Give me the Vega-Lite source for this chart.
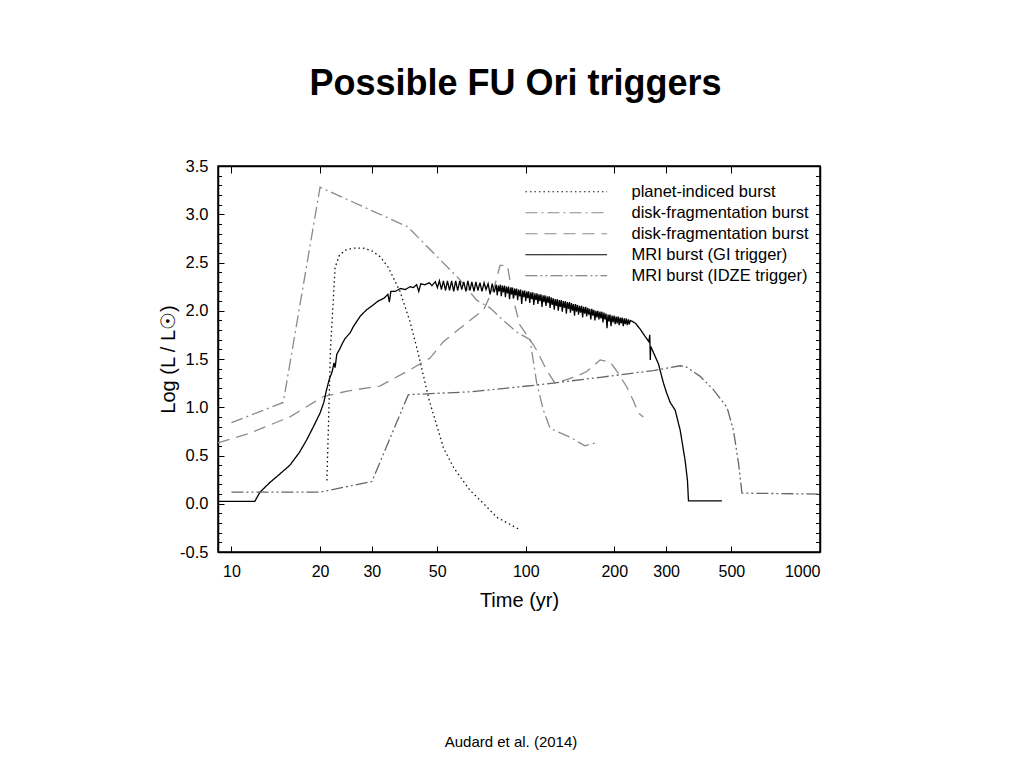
{
  "$schema": "https://vega.github.io/schema/vega-lite/v6.json",
  "background": "white",
  "padding": {"left": 157, "top": 66, "right": 10, "bottom": 10},
  "title": {"text": "Possible FU Ori triggers", "font": "Liberation Sans", "fontSize": 36, "fontWeight": "bold", "color": "black", "anchor": "middle", "offset": 54, "dx": 25},
  "vconcat": [
    {
      "title": {"text": "Audard et al. (2014)", "orient": "bottom", "font": "Liberation Sans", "fontSize": 15, "fontWeight": "normal", "color": "black", "offset": 125, "dx": -8},
      "width": 602,
      "height": 386,
      "data": {"values": [
        {"s":"planet-indiced burst","t":21.1,"L":0.24},{"s":"planet-indiced burst","t":21.4,"L":0.9},{"s":"planet-indiced burst","t":21.7,"L":1.6},{"s":"planet-indiced burst","t":22.2,"L":2.13},{"s":"planet-indiced burst","t":22.5,"L":2.45},{"s":"planet-indiced burst","t":23.3,"L":2.58},{"s":"planet-indiced burst","t":24.5,"L":2.63},{"s":"planet-indiced burst","t":26,"L":2.65},{"s":"planet-indiced burst","t":28,"L":2.65},{"s":"planet-indiced burst","t":30,"L":2.62},{"s":"planet-indiced burst","t":32,"L":2.56},{"s":"planet-indiced burst","t":34.1,"L":2.45},{"s":"planet-indiced burst","t":37.4,"L":2.2},{"s":"planet-indiced burst","t":40.4,"L":1.89},{"s":"planet-indiced burst","t":43.1,"L":1.56},{"s":"planet-indiced burst","t":47,"L":1.07},{"s":"planet-indiced burst","t":50,"L":0.8},{"s":"planet-indiced burst","t":52.5,"L":0.58},{"s":"planet-indiced burst","t":57,"L":0.37},{"s":"planet-indiced burst","t":64.6,"L":0.14},{"s":"planet-indiced burst","t":72,"L":0.0},{"s":"planet-indiced burst","t":79.7,"L":-0.14},{"s":"planet-indiced burst","t":88,"L":-0.21},{"s":"planet-indiced burst","t":95.7,"L":-0.27},

        {"s":"disk-fragmentation burst","t":10,"L":0.84},{"s":"disk-fragmentation burst","t":15,"L":1.05},{"s":"disk-fragmentation burst","t":20,"L":3.28},{"s":"disk-fragmentation burst","t":39.7,"L":2.87},{"s":"disk-fragmentation burst","t":59.8,"L":2.32},{"s":"disk-fragmentation burst","t":68.1,"L":2.11},{"s":"disk-fragmentation burst","t":75.6,"L":2.03},{"s":"disk-fragmentation burst","t":83.9,"L":1.9},{"s":"disk-fragmentation burst","t":93.2,"L":1.78},{"s":"disk-fragmentation burst","t":103.4,"L":1.7},{"s":"disk-fragmentation burst","t":109,"L":1.25},{"s":"disk-fragmentation burst","t":114.8,"L":0.97},{"s":"disk-fragmentation burst","t":121,"L":0.78},{"s":"disk-fragmentation burst","t":141.5,"L":0.69},{"s":"disk-fragmentation burst","t":159,"L":0.6},{"s":"disk-fragmentation burst","t":176.6,"L":0.64},

        {"s":"disk-fragmentation burst 2","t":9,"L":0.63},{"s":"disk-fragmentation burst 2","t":11.5,"L":0.73},{"s":"disk-fragmentation burst 2","t":15.8,"L":0.9},{"s":"disk-fragmentation burst 2","t":20.5,"L":1.11},{"s":"disk-fragmentation burst 2","t":25,"L":1.17},{"s":"disk-fragmentation burst 2","t":31.9,"L":1.22},{"s":"disk-fragmentation burst 2","t":40,"L":1.38},{"s":"disk-fragmentation burst 2","t":47.3,"L":1.51},{"s":"disk-fragmentation burst 2","t":52.5,"L":1.68},{"s":"disk-fragmentation burst 2","t":64.6,"L":1.9},{"s":"disk-fragmentation burst 2","t":72,"L":2.01},{"s":"disk-fragmentation burst 2","t":78.6,"L":2.27},{"s":"disk-fragmentation burst 2","t":81.8,"L":2.47},{"s":"disk-fragmentation burst 2","t":86.6,"L":2.47},{"s":"disk-fragmentation burst 2","t":90.8,"L":2.11},{"s":"disk-fragmentation burst 2","t":95.6,"L":1.85},{"s":"disk-fragmentation burst 2","t":102,"L":1.73},{"s":"disk-fragmentation burst 2","t":109,"L":1.59},{"s":"disk-fragmentation burst 2","t":117.9,"L":1.38},{"s":"disk-fragmentation burst 2","t":125.8,"L":1.25},{"s":"disk-fragmentation burst 2","t":149,"L":1.32},{"s":"disk-fragmentation burst 2","t":161,"L":1.37},{"s":"disk-fragmentation burst 2","t":179,"L":1.49},{"s":"disk-fragmentation burst 2","t":193.5,"L":1.47},{"s":"disk-fragmentation burst 2","t":206.5,"L":1.35},{"s":"disk-fragmentation burst 2","t":220.5,"L":1.21},{"s":"disk-fragmentation burst 2","t":232,"L":1.07},{"s":"disk-fragmentation burst 2","t":241.6,"L":0.94},{"s":"disk-fragmentation burst 2","t":251,"L":0.9},

        {"s":"MRI burst (GI trigger)","t":9,"L":0.025},{"s":"MRI burst (GI trigger)","t":12.0,"L":0.025},{"s":"MRI burst (GI trigger)","t":12.5,"L":0.12},{"s":"MRI burst (GI trigger)","t":13.5,"L":0.22},{"s":"MRI burst (GI trigger)","t":14.5,"L":0.30},{"s":"MRI burst (GI trigger)","t":15.8,"L":0.40},{"s":"MRI burst (GI trigger)","t":17.0,"L":0.53},{"s":"MRI burst (GI trigger)","t":18.0,"L":0.66},{"s":"MRI burst (GI trigger)","t":19.0,"L":0.80},{"s":"MRI burst (GI trigger)","t":20.0,"L":0.94},{"s":"MRI burst (GI trigger)","t":20.6,"L":1.05},{"s":"MRI burst (GI trigger)","t":21.0,"L":1.17},{"s":"MRI burst (GI trigger)","t":21.5,"L":1.29},{"s":"MRI burst (GI trigger)","t":22.0,"L":1.37},{"s":"MRI burst (GI trigger)","t":22.3,"L":1.46},{"s":"MRI burst (GI trigger)","t":22.5,"L":1.41},{"s":"MRI burst (GI trigger)","t":22.8,"L":1.55},{"s":"MRI burst (GI trigger)","t":23.3,"L":1.60},{"s":"MRI burst (GI trigger)","t":23.8,"L":1.66},{"s":"MRI burst (GI trigger)","t":24.3,"L":1.71},{"s":"MRI burst (GI trigger)","t":25.3,"L":1.77},{"s":"MRI burst (GI trigger)","t":26.0,"L":1.84},{"s":"MRI burst (GI trigger)","t":26.8,"L":1.90},{"s":"MRI burst (GI trigger)","t":27.5,"L":1.95},{"s":"MRI burst (GI trigger)","t":28.8,"L":2.01},{"s":"MRI burst (GI trigger)","t":30.0,"L":2.05},{"s":"MRI burst (GI trigger)","t":31.5,"L":2.10},{"s":"MRI burst (GI trigger)","t":33.0,"L":2.13},{"s":"MRI burst (GI trigger)","t":34.0,"L":2.17},{"s":"MRI burst (GI trigger)","t":34.4,"L":2.09},{"s":"MRI burst (GI trigger)","t":34.8,"L":2.20},{"s":"MRI burst (GI trigger)","t":36.0,"L":2.20},{"s":"MRI burst (GI trigger)","t":37.5,"L":2.23},{"s":"MRI burst (GI trigger)","t":39.0,"L":2.22},{"s":"MRI burst (GI trigger)","t":40.5,"L":2.25},{"s":"MRI burst (GI trigger)","t":41.5,"L":2.24},{"s":"MRI burst (GI trigger)","t":42.6,"L":2.27},{"s":"MRI burst (GI trigger)","t":43.3,"L":2.20},{"s":"MRI burst (GI trigger)","t":44.0,"L":2.28},{"s":"MRI burst (GI trigger)","t":45.5,"L":2.27},{"s":"MRI burst (GI trigger)","t":47.0,"L":2.29},{"s":"MRI burst (GI trigger)","t":48.0,"L":2.26},{"s":"MRI burst (GI trigger)","t":49.3,"L":2.30},{"s":"MRI burst (GI trigger)","t":50.1,"L":2.24},{"s":"MRI burst (GI trigger)","t":50.9,"L":2.31},{"s":"MRI burst (GI trigger)","t":51.7,"L":2.22},{"s":"MRI burst (GI trigger)","t":52.5,"L":2.31},{"s":"MRI burst (GI trigger)","t":53.4,"L":2.21},{"s":"MRI burst (GI trigger)","t":54.2,"L":2.31},{"s":"MRI burst (GI trigger)","t":55.1,"L":2.21},{"s":"MRI burst (GI trigger)","t":56.0,"L":2.31},{"s":"MRI burst (GI trigger)","t":56.9,"L":2.20},{"s":"MRI burst (GI trigger)","t":57.8,"L":2.31},{"s":"MRI burst (GI trigger)","t":58.7,"L":2.21},{"s":"MRI burst (GI trigger)","t":59.7,"L":2.31},{"s":"MRI burst (GI trigger)","t":60.6,"L":2.22},{"s":"MRI burst (GI trigger)","t":61.6,"L":2.30},{"s":"MRI burst (GI trigger)","t":62.6,"L":2.20},{"s":"MRI burst (GI trigger)","t":63.6,"L":2.31},{"s":"MRI burst (GI trigger)","t":64.6,"L":2.21},{"s":"MRI burst (GI trigger)","t":65.6,"L":2.30},{"s":"MRI burst (GI trigger)","t":66.7,"L":2.20},{"s":"MRI burst (GI trigger)","t":67.7,"L":2.30},{"s":"MRI burst (GI trigger)","t":68.8,"L":2.21},{"s":"MRI burst (GI trigger)","t":69.9,"L":2.29},{"s":"MRI burst (GI trigger)","t":71.0,"L":2.20},{"s":"MRI burst (GI trigger)","t":72.2,"L":2.29},{"s":"MRI burst (GI trigger)","t":73.3,"L":2.22},{"s":"MRI burst (GI trigger)","t":74.5,"L":2.28},{"s":"MRI burst (GI trigger)","t":75.7,"L":2.17},{"s":"MRI burst (GI trigger)","t":76.9,"L":2.28},{"s":"MRI burst (GI trigger)","t":78.1,"L":2.19},{"s":"MRI burst (GI trigger)","t":79.4,"L":2.27},{"s":"MRI burst (GI trigger)","t":80.0,"L":2.16},{"s":"MRI burst (GI trigger)","t":80.7,"L":2.26},{"s":"MRI burst (GI trigger)","t":81.3,"L":2.20},{"s":"MRI burst (GI trigger)","t":82.0,"L":2.27},{"s":"MRI burst (GI trigger)","t":82.6,"L":2.15},{"s":"MRI burst (GI trigger)","t":83.3,"L":2.26},{"s":"MRI burst (GI trigger)","t":84.0,"L":2.19},{"s":"MRI burst (GI trigger)","t":84.7,"L":2.26},{"s":"MRI burst (GI trigger)","t":85.3,"L":2.14},{"s":"MRI burst (GI trigger)","t":86.0,"L":2.25},{"s":"MRI burst (GI trigger)","t":86.7,"L":2.18},{"s":"MRI burst (GI trigger)","t":87.4,"L":2.25},{"s":"MRI burst (GI trigger)","t":88.1,"L":2.12},{"s":"MRI burst (GI trigger)","t":88.8,"L":2.24},{"s":"MRI burst (GI trigger)","t":89.5,"L":2.17},{"s":"MRI burst (GI trigger)","t":90.2,"L":2.24},{"s":"MRI burst (GI trigger)","t":91.0,"L":2.13},{"s":"MRI burst (GI trigger)","t":91.7,"L":2.23},{"s":"MRI burst (GI trigger)","t":92.4,"L":2.16},{"s":"MRI burst (GI trigger)","t":93.1,"L":2.23},{"s":"MRI burst (GI trigger)","t":93.9,"L":2.11},{"s":"MRI burst (GI trigger)","t":94.6,"L":2.22},{"s":"MRI burst (GI trigger)","t":95.4,"L":2.15},{"s":"MRI burst (GI trigger)","t":96.1,"L":2.22},{"s":"MRI burst (GI trigger)","t":96.9,"L":2.07},{"s":"MRI burst (GI trigger)","t":97.7,"L":2.21},{"s":"MRI burst (GI trigger)","t":98.4,"L":2.14},{"s":"MRI burst (GI trigger)","t":99.2,"L":2.21},{"s":"MRI burst (GI trigger)","t":100.0,"L":2.10},{"s":"MRI burst (GI trigger)","t":100.8,"L":2.20},{"s":"MRI burst (GI trigger)","t":101.6,"L":2.13},{"s":"MRI burst (GI trigger)","t":102.4,"L":2.20},{"s":"MRI burst (GI trigger)","t":103.2,"L":2.08},{"s":"MRI burst (GI trigger)","t":104.1,"L":2.19},{"s":"MRI burst (GI trigger)","t":104.9,"L":2.12},{"s":"MRI burst (GI trigger)","t":105.7,"L":2.19},{"s":"MRI burst (GI trigger)","t":106.5,"L":2.06},{"s":"MRI burst (GI trigger)","t":107.4,"L":2.18},{"s":"MRI burst (GI trigger)","t":108.3,"L":2.11},{"s":"MRI burst (GI trigger)","t":109.2,"L":2.18},{"s":"MRI burst (GI trigger)","t":110.0,"L":2.07},{"s":"MRI burst (GI trigger)","t":110.9,"L":2.17},{"s":"MRI burst (GI trigger)","t":111.8,"L":2.10},{"s":"MRI burst (GI trigger)","t":112.7,"L":2.17},{"s":"MRI burst (GI trigger)","t":113.6,"L":2.04},{"s":"MRI burst (GI trigger)","t":114.5,"L":2.16},{"s":"MRI burst (GI trigger)","t":115.4,"L":2.09},{"s":"MRI burst (GI trigger)","t":116.3,"L":2.16},{"s":"MRI burst (GI trigger)","t":117.2,"L":2.05},{"s":"MRI burst (GI trigger)","t":118.2,"L":2.15},{"s":"MRI burst (GI trigger)","t":119.1,"L":2.08},{"s":"MRI burst (GI trigger)","t":120.1,"L":2.15},{"s":"MRI burst (GI trigger)","t":121.0,"L":2.03},{"s":"MRI burst (GI trigger)","t":122.0,"L":2.14},{"s":"MRI burst (GI trigger)","t":123.0,"L":2.06},{"s":"MRI burst (GI trigger)","t":124.0,"L":2.13},{"s":"MRI burst (GI trigger)","t":125.0,"L":2.01},{"s":"MRI burst (GI trigger)","t":125.9,"L":2.12},{"s":"MRI burst (GI trigger)","t":127.0,"L":2.05},{"s":"MRI burst (GI trigger)","t":128.0,"L":2.12},{"s":"MRI burst (GI trigger)","t":129.0,"L":2.00},{"s":"MRI burst (GI trigger)","t":130.0,"L":2.11},{"s":"MRI burst (GI trigger)","t":131.0,"L":2.04},{"s":"MRI burst (GI trigger)","t":132.1,"L":2.11},{"s":"MRI burst (GI trigger)","t":133.1,"L":1.99},{"s":"MRI burst (GI trigger)","t":134.2,"L":2.10},{"s":"MRI burst (GI trigger)","t":135.3,"L":2.03},{"s":"MRI burst (GI trigger)","t":136.4,"L":2.10},{"s":"MRI burst (GI trigger)","t":137.4,"L":1.97},{"s":"MRI burst (GI trigger)","t":138.5,"L":2.09},{"s":"MRI burst (GI trigger)","t":139.7,"L":2.02},{"s":"MRI burst (GI trigger)","t":140.8,"L":2.09},{"s":"MRI burst (GI trigger)","t":141.9,"L":1.98},{"s":"MRI burst (GI trigger)","t":143.0,"L":2.08},{"s":"MRI burst (GI trigger)","t":144.2,"L":2.00},{"s":"MRI burst (GI trigger)","t":145.3,"L":2.07},{"s":"MRI burst (GI trigger)","t":146.5,"L":1.95},{"s":"MRI burst (GI trigger)","t":147.6,"L":2.07},{"s":"MRI burst (GI trigger)","t":148.8,"L":1.99},{"s":"MRI burst (GI trigger)","t":150.0,"L":2.06},{"s":"MRI burst (GI trigger)","t":151.2,"L":1.96},{"s":"MRI burst (GI trigger)","t":152.4,"L":2.05},{"s":"MRI burst (GI trigger)","t":153.6,"L":1.98},{"s":"MRI burst (GI trigger)","t":154.9,"L":2.05},{"s":"MRI burst (GI trigger)","t":156.1,"L":1.93},{"s":"MRI burst (GI trigger)","t":157.3,"L":2.04},{"s":"MRI burst (GI trigger)","t":158.6,"L":1.97},{"s":"MRI burst (GI trigger)","t":159.9,"L":2.04},{"s":"MRI burst (GI trigger)","t":161.1,"L":1.94},{"s":"MRI burst (GI trigger)","t":162.4,"L":2.03},{"s":"MRI burst (GI trigger)","t":163.7,"L":1.96},{"s":"MRI burst (GI trigger)","t":165.0,"L":2.02},{"s":"MRI burst (GI trigger)","t":166.4,"L":1.91},{"s":"MRI burst (GI trigger)","t":167.7,"L":2.02},{"s":"MRI burst (GI trigger)","t":169.0,"L":1.95},{"s":"MRI burst (GI trigger)","t":170.4,"L":2.01},{"s":"MRI burst (GI trigger)","t":171.8,"L":1.90},{"s":"MRI burst (GI trigger)","t":173.1,"L":2.00},{"s":"MRI burst (GI trigger)","t":174.5,"L":1.93},{"s":"MRI burst (GI trigger)","t":175.9,"L":2.00},{"s":"MRI burst (GI trigger)","t":177.3,"L":1.91},{"s":"MRI burst (GI trigger)","t":178.7,"L":1.99},{"s":"MRI burst (GI trigger)","t":180.1,"L":1.92},{"s":"MRI burst (GI trigger)","t":181.5,"L":1.99},{"s":"MRI burst (GI trigger)","t":183.0,"L":1.88},{"s":"MRI burst (GI trigger)","t":184.4,"L":1.98},{"s":"MRI burst (GI trigger)","t":185.9,"L":1.91},{"s":"MRI burst (GI trigger)","t":187.4,"L":1.97},{"s":"MRI burst (GI trigger)","t":188.9,"L":1.82},{"s":"MRI burst (GI trigger)","t":190.4,"L":1.96},{"s":"MRI burst (GI trigger)","t":191.9,"L":1.89},{"s":"MRI burst (GI trigger)","t":193.4,"L":1.96},{"s":"MRI burst (GI trigger)","t":194.9,"L":1.84},{"s":"MRI burst (GI trigger)","t":196.5,"L":1.95},{"s":"MRI burst (GI trigger)","t":198.1,"L":1.88},{"s":"MRI burst (GI trigger)","t":199.7,"L":1.95},{"s":"MRI burst (GI trigger)","t":201.3,"L":1.86},{"s":"MRI burst (GI trigger)","t":202.9,"L":1.94},{"s":"MRI burst (GI trigger)","t":204.5,"L":1.87},{"s":"MRI burst (GI trigger)","t":206.1,"L":1.94},{"s":"MRI burst (GI trigger)","t":207.8,"L":1.85},{"s":"MRI burst (GI trigger)","t":209.4,"L":1.93},{"s":"MRI burst (GI trigger)","t":211.1,"L":1.87},{"s":"MRI burst (GI trigger)","t":212.8,"L":1.93},{"s":"MRI burst (GI trigger)","t":214.5,"L":1.84},{"s":"MRI burst (GI trigger)","t":216.2,"L":1.92},{"s":"MRI burst (GI trigger)","t":217.9,"L":1.86},{"s":"MRI burst (GI trigger)","t":219.6,"L":1.92},{"s":"MRI burst (GI trigger)","t":221.4,"L":1.85},{"s":"MRI burst (GI trigger)","t":223.2,"L":1.91},{"s":"MRI burst (GI trigger)","t":224.9,"L":1.86},{"s":"MRI burst (GI trigger)","t":226.7,"L":1.90},{"s":"MRI burst (GI trigger)","t":230.0,"L":1.89},{"s":"MRI burst (GI trigger)","t":236.0,"L":1.87},{"s":"MRI burst (GI trigger)","t":244.8,"L":1.81},{"s":"MRI burst (GI trigger)","t":255.0,"L":1.73},{"s":"MRI burst (GI trigger)","t":262.0,"L":1.68},{"s":"MRI burst (GI trigger)","t":264.0,"L":1.75},{"s":"MRI burst (GI trigger)","t":265.0,"L":1.49},{"s":"MRI burst (GI trigger)","t":266.0,"L":1.63},{"s":"MRI burst (GI trigger)","t":275.0,"L":1.53},{"s":"MRI burst (GI trigger)","t":282.5,"L":1.45},{"s":"MRI burst (GI trigger)","t":293.8,"L":1.25},{"s":"MRI burst (GI trigger)","t":301.0,"L":1.15},{"s":"MRI burst (GI trigger)","t":309.7,"L":1.05},{"s":"MRI burst (GI trigger)","t":322.0,"L":0.97},{"s":"MRI burst (GI trigger)","t":335.0,"L":0.76},{"s":"MRI burst (GI trigger)","t":348.0,"L":0.45},{"s":"MRI burst (GI trigger)","t":354.5,"L":0.24},{"s":"MRI burst (GI trigger)","t":357.3,"L":0.03},{"s":"MRI burst (GI trigger)","t":464.0,"L":0.03},

        {"s":"MRI burst (IDZE trigger)","t":10,"L":0.12},{"s":"MRI burst (IDZE trigger)","t":20,"L":0.12},{"s":"MRI burst (IDZE trigger)","t":30,"L":0.23},{"s":"MRI burst (IDZE trigger)","t":39.9,"L":1.13},{"s":"MRI burst (IDZE trigger)","t":64.6,"L":1.16},{"s":"MRI burst (IDZE trigger)","t":109,"L":1.23},{"s":"MRI burst (IDZE trigger)","t":179,"L":1.31},{"s":"MRI burst (IDZE trigger)","t":271.6,"L":1.38},{"s":"MRI burst (IDZE trigger)","t":335,"L":1.43},{"s":"MRI burst (IDZE trigger)","t":350,"L":1.42},{"s":"MRI burst (IDZE trigger)","t":391.6,"L":1.32},{"s":"MRI burst (IDZE trigger)","t":434.6,"L":1.18},{"s":"MRI burst (IDZE trigger)","t":483,"L":1.0},{"s":"MRI burst (IDZE trigger)","t":508,"L":0.76},{"s":"MRI burst (IDZE trigger)","t":528.6,"L":0.42},{"s":"MRI burst (IDZE trigger)","t":543,"L":0.11},{"s":"MRI burst (IDZE trigger)","t":1000,"L":0.10}
      ]},
      "layer": [
        {
          "mark": {"type": "line", "strokeWidth": 1.3},
          "encoding": {
            "x": {"field": "t", "type": "quantitative",
              "scale": {"type": "log", "domain": [9, 1000], "nice": false},
              "axis": {"orient": "bottom", "values": [10, 20, 30, 50, 100, 200, 300, 500, 1000], "format": "d", "tickSize": -6, "tickColor": "black", "labelPadding": 17, "labelFont": "Liberation Sans", "labelFontSize": 16, "labelColor": "black", "domainColor": "black", "domainWidth": 1.5, "grid": false, "title": "Time (yr)", "titleFont": "Liberation Sans", "titleFontSize": 20, "titleFontWeight": "normal", "titleColor": "black", "titlePadding": 11}},
            "y": {"field": "L", "type": "quantitative",
              "scale": {"domain": [-0.5, 3.5], "nice": false, "zero": false},
              "axis": {"orient": "left", "values": [-0.5, 0, 0.5, 1, 1.5, 2, 2.5, 3, 3.5], "format": ".1f", "labelExpr": "replace(datum.label, '−', '-')", "tickSize": -6, "tickColor": "black", "labelPadding": 16, "labelFont": "Liberation Sans", "labelFontSize": 16.5, "labelColor": "black", "domainColor": "black", "domainWidth": 1.5, "grid": false, "title": "Log (L / L☉)", "titleFont": "Liberation Sans", "titleFontSize": 20, "titleFontWeight": "normal", "titleColor": "black", "titlePadding": 1}},
            "color": {"field": "s", "type": "nominal",
              "scale": {"domain": ["planet-indiced burst", "disk-fragmentation burst", "disk-fragmentation burst 2", "MRI burst (GI trigger)", "MRI burst (IDZE trigger)"], "range": ["#111111", "#8a8a8a", "#8a8a8a", "#000000", "#666666"]},
              "legend": {"title": null, "orient": "none", "legendX": 340, "legendY": 17.5, "symbolType": "M-10.2,0H10.2", "symbolSize": 64, "symbolStrokeWidth": 1.2, "labelFont": "Liberation Sans", "labelFontSize": 16.5, "labelColor": "black", "labelOffset": 57, "labelLimit": 400, "labelExpr": "replace(datum.label, ' 2', '')", "padding": 0, "rowPadding": 4}},
            "strokeDash": {"field": "s", "type": "nominal",
              "scale": {"domain": ["planet-indiced burst", "disk-fragmentation burst", "disk-fragmentation burst 2", "MRI burst (GI trigger)", "MRI burst (IDZE trigger)"], "range": [[1.5, 3], [12, 4, 2, 4], [12, 7], [1, 0], [12, 3, 2, 3, 2, 3]]},
              "legend": {"title": null, "orient": "none", "legendX": 340, "legendY": 17.5, "symbolType": "M-10.2,0H10.2", "symbolSize": 64, "symbolStrokeWidth": 1.2, "labelFont": "Liberation Sans", "labelFontSize": 16.5, "labelColor": "black", "labelOffset": 57, "labelLimit": 400, "labelExpr": "replace(datum.label, ' 2', '')", "padding": 0, "rowPadding": 4}}
          }
        },
        {
          "mark": {"type": "line", "opacity": 0},
          "encoding": {
            "x": {"field": "t", "type": "quantitative",
              "axis": {"orient": "top", "values": [10, 20, 30, 50, 100, 200, 300, 500], "labels": false, "tickSize": -7, "tickColor": "black", "domainColor": "black", "domainWidth": 1.5, "grid": false, "title": null}},
            "y": {"field": "L", "type": "quantitative",
              "axis": {"orient": "left", "values": [-0.4, -0.3, -0.2, -0.1, 0.1, 0.2, 0.3, 0.4, 0.6, 0.7, 0.8, 0.9, 1.1, 1.2, 1.3, 1.4, 1.6, 1.7, 1.8, 1.9, 2.1, 2.2, 2.3, 2.4, 2.6, 2.7, 2.8, 2.9, 3.1, 3.2, 3.3, 3.4], "labels": false, "tickSize": -3.5, "tickColor": "black", "domain": false, "grid": false, "title": null}}
          }
        },
        {
          "mark": {"type": "line", "opacity": 0},
          "encoding": {
            "x": {"field": "t", "type": "quantitative", "axis": null},
            "y": {"field": "L", "type": "quantitative",
              "axis": {"orient": "right", "values": [-0.4, -0.3, -0.2, -0.1, 0, 0.1, 0.2, 0.3, 0.4, 0.5, 0.6, 0.7, 0.8, 0.9, 1, 1.1, 1.2, 1.3, 1.4, 1.5, 1.6, 1.7, 1.8, 1.9, 2, 2.1, 2.2, 2.3, 2.4, 2.5, 2.6, 2.7, 2.8, 2.9, 3, 3.1, 3.2, 3.3, 3.4], "labels": false, "tickSize": -4.5, "tickColor": "black", "domainColor": "black", "domainWidth": 1.5, "grid": false, "title": null}}
          }
        }
      ],
      "resolve": {"axis": {"x": "independent", "y": "independent"}}
    }
  ],
  "config": {"view": {"stroke": "black", "strokeWidth": 1.5}, "concat": {"spacing": 0}}
}
